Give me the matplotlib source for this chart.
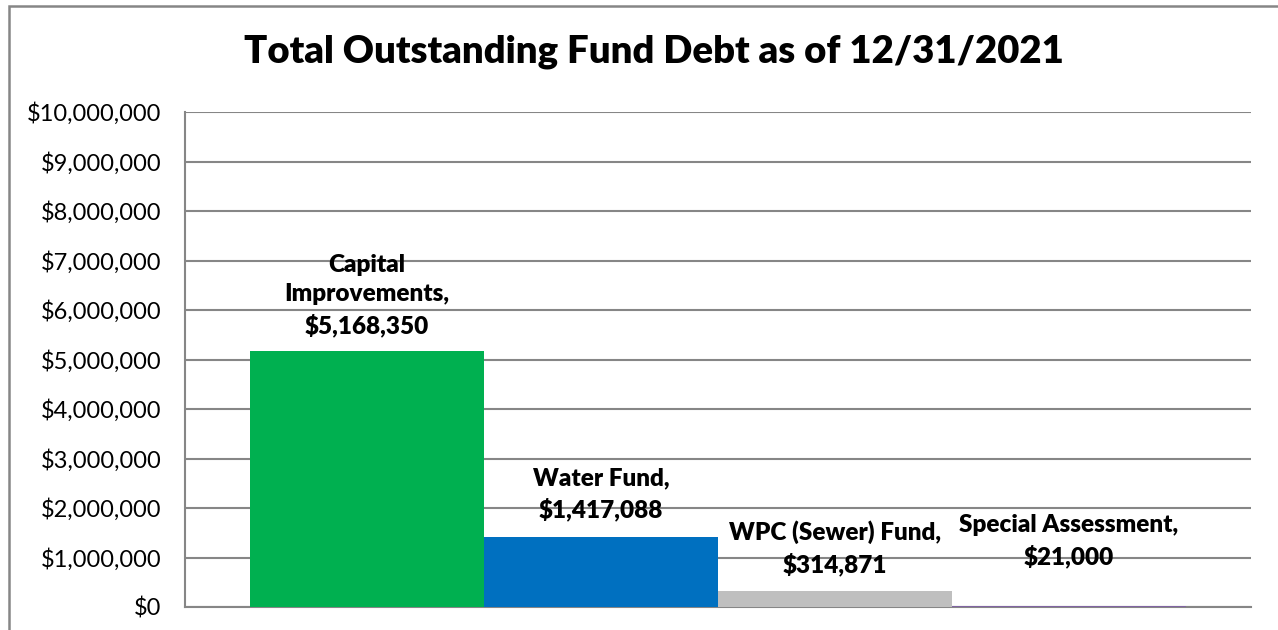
import matplotlib
matplotlib.use("Agg")
import matplotlib.pyplot as plt
from matplotlib.patches import Rectangle
from matplotlib.ticker import FuncFormatter, MultipleLocator

categories = ["Capital\nImprovements", "Water Fund", "WPC (Sewer) Fund", "Special Assessment"]
values = [5168350, 1417088, 314871, 21000]
colors = ["#00B050", "#0070C0", "#BFBFBF", "#8064A2"]
label_offsets = [14, 16, 15, 38]  # pixels above each bar top

plt.rcParams["font.family"] = ["Lato", "DejaVu Sans"]

W, H = 1278, 630
fig = plt.figure(figsize=(W / 100, H / 100), dpi=100)
ax = fig.add_axes([185 / W, 1 - 607 / H, (1251 - 185) / W, (607 - 112) / H])

x = list(range(len(values)))
ax.bar(x, values, width=1.0, color=colors, zorder=3)

ax.set_xlim(-0.5 - 65 / 234, len(values) - 0.5 + 65 / 234)
ax.set_ylim(0, 10_000_000)
ax.yaxis.set_major_locator(MultipleLocator(1_000_000))
ax.yaxis.set_major_formatter(FuncFormatter(lambda v, p: f"${v:,.0f}"))
ax.grid(axis="y", color="#868686", linewidth=1.5, zorder=0)
ax.set_xticks([])
ax.tick_params(axis="y", length=0, pad=17, labelsize=17)
for s in ("top", "right"):
    ax.spines[s].set_visible(False)
for s in ("left", "bottom"):
    ax.spines[s].set_color("#868686")
    ax.spines[s].set_linewidth(1.5)

for xi, v, cat, off in zip(x, values, categories, label_offsets):
    ax.annotate(f"{cat},\n${v:,.0f}", xy=(xi, v), xytext=(0, off * 0.72),
                textcoords="offset points", ha="center", va="bottom",
                fontsize=17.5, fontweight="heavy", linespacing=1.42, zorder=4)

fig.text(654 / W, 1 - 52 / H, "Total Outstanding Fund Debt as of 12/31/2021",
         ha="center", va="center", fontsize=27.5, fontweight="heavy")

fig.patches.append(Rectangle((9 / W, -0.1), 1.2, 1 - 6 / H + 0.1,
                             transform=fig.transFigure, fill=False,
                             edgecolor="#868686", linewidth=1.8))

fig.savefig("out.png", dpi=100)
